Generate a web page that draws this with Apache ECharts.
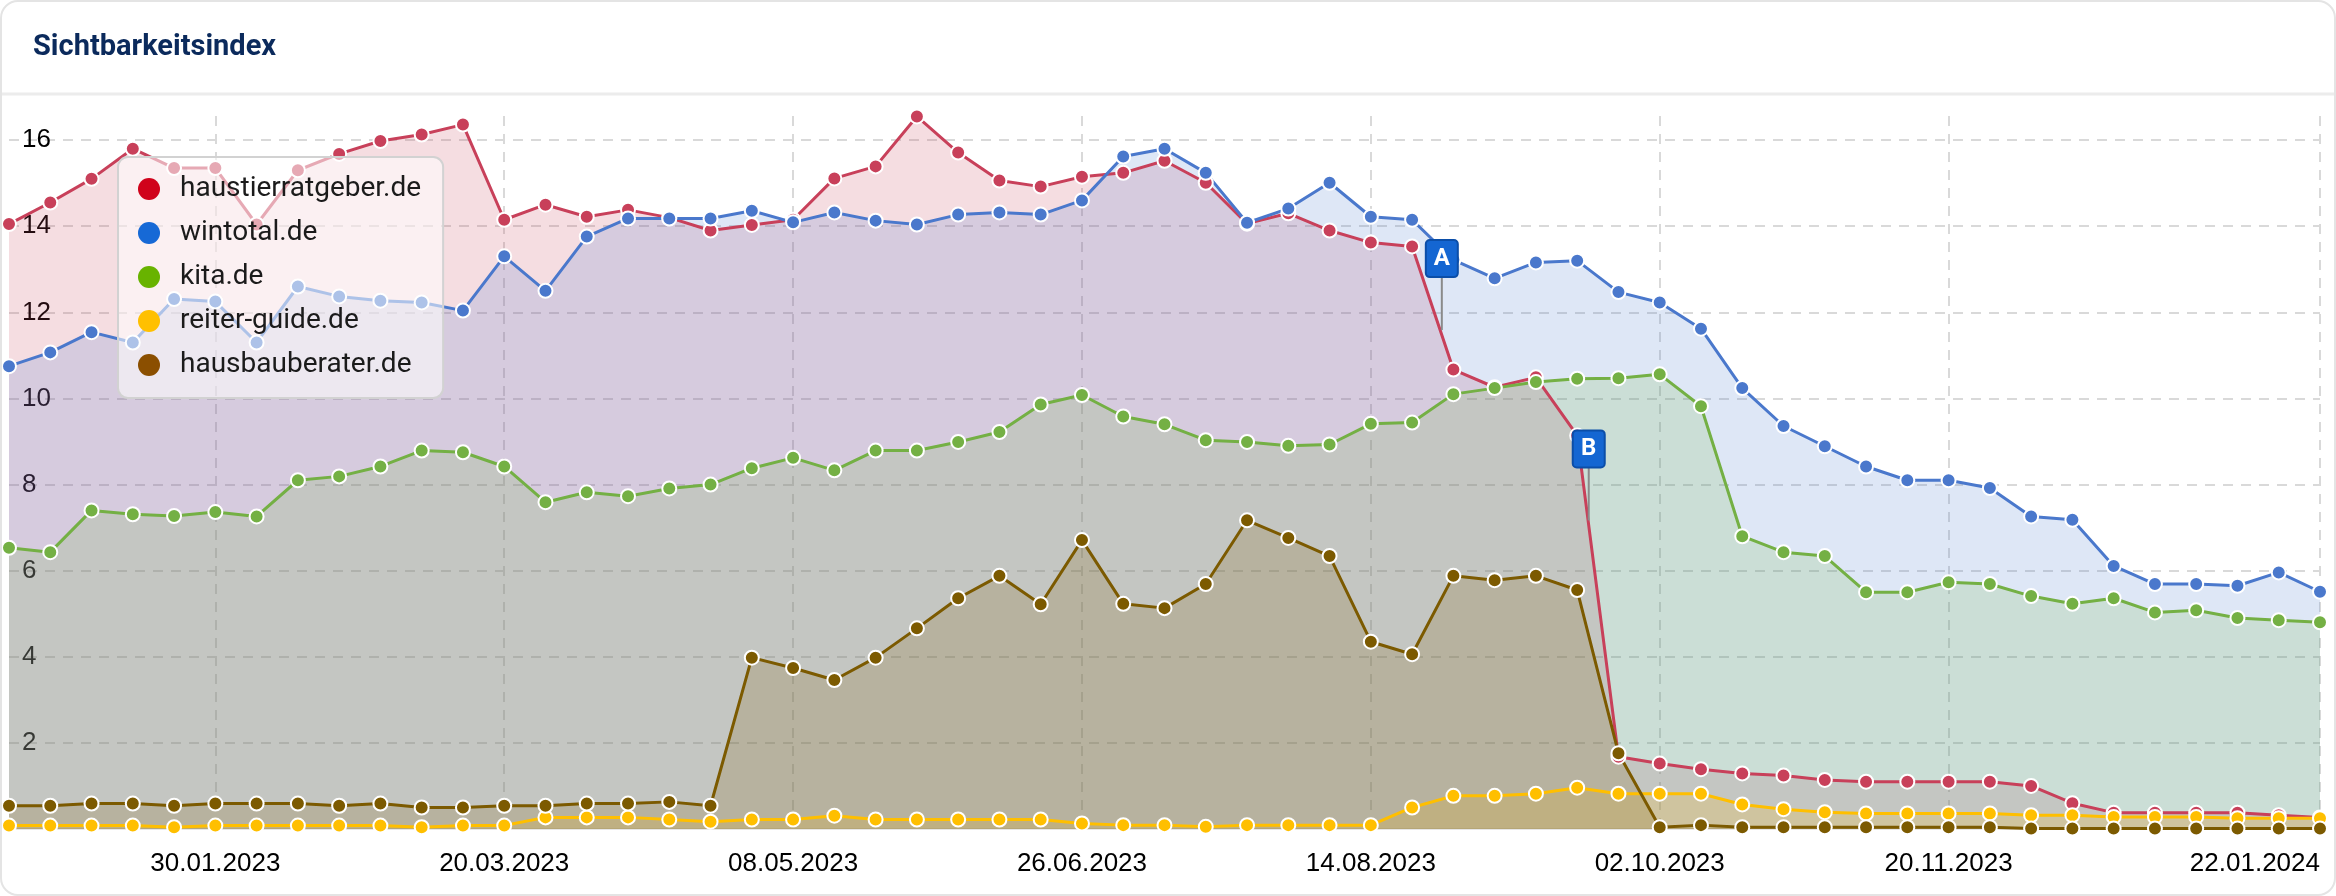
<!DOCTYPE html>
<html><head><meta charset="utf-8">
<script src="https://cdn.jsdelivr.net/npm/echarts@6/dist/echarts.min.js"></script>
<style>
html,body{margin:0;padding:0;background:#fff;}
#card{position:absolute;left:0;top:0;width:2336px;height:896px;box-sizing:border-box;border:2px solid #e4e4e4;border-radius:18px;overflow:hidden;background:#fff;}
#chart{width:2332px;height:892px;}
</style></head><body>
<div id="card"><div id="chart"></div></div>
<script>
const categories = ['26.12.2022','02.01.2023','09.01.2023','16.01.2023','23.01.2023','30.01.2023','06.02.2023','13.02.2023','20.02.2023','27.02.2023','06.03.2023','13.03.2023','20.03.2023','27.03.2023','03.04.2023','10.04.2023','17.04.2023','24.04.2023','01.05.2023','08.05.2023','15.05.2023','22.05.2023','29.05.2023','05.06.2023','12.06.2023','19.06.2023','26.06.2023','03.07.2023','10.07.2023','17.07.2023','24.07.2023','31.07.2023','07.08.2023','14.08.2023','21.08.2023','28.08.2023','04.09.2023','11.09.2023','18.09.2023','25.09.2023','02.10.2023','09.10.2023','16.10.2023','23.10.2023','30.10.2023','06.11.2023','13.11.2023','20.11.2023','27.11.2023','04.12.2023','11.12.2023','18.12.2023','25.12.2023','01.01.2024','08.01.2024','15.01.2024','22.01.2024'];
const tickLabels = ['30.01.2023','20.03.2023','08.05.2023','26.06.2023','14.08.2023','02.10.2023','20.11.2023','22.01.2024'];
const yTicks = [2,4,6,8,10,12,14,16];

const haustierratgeber = [14.05,14.55,15.1,15.8,15.35,15.35,14.04,15.3,15.68,15.98,16.13,16.36,14.15,14.5,14.22,14.38,14.2,13.9,14.03,14.15,15.11,15.39,16.55,15.71,15.06,14.92,15.15,15.24,15.52,15.01,14.06,14.3,13.9,13.62,13.53,10.67,10.26,10.49,9.14,1.68,1.52,1.39,1.29,1.24,1.14,1.1,1.1,1.1,1.1,1.0,0.6,0.38,0.38,0.38,0.38,0.32,0.27];
const wintotal = [10.75,11.07,11.54,11.3,12.31,12.25,11.3,12.6,12.37,12.27,12.23,12.04,13.3,12.5,13.76,14.18,14.18,14.18,14.36,14.09,14.32,14.13,14.04,14.27,14.32,14.27,14.6,15.62,15.8,15.24,14.08,14.41,15.01,14.22,14.15,13.22,12.79,13.16,13.2,12.47,12.23,11.62,10.24,9.36,8.89,8.42,8.1,8.1,7.92,7.26,7.18,6.11,5.69,5.69,5.65,5.96,5.51];
const kita = [6.53,6.43,7.4,7.31,7.27,7.36,7.26,8.1,8.19,8.42,8.79,8.75,8.42,7.59,7.82,7.73,7.91,8.0,8.38,8.62,8.33,8.79,8.79,8.99,9.22,9.86,10.08,9.58,9.4,9.03,8.99,8.9,8.93,9.41,9.44,10.1,10.24,10.38,10.46,10.47,10.56,9.82,6.8,6.43,6.34,5.5,5.5,5.73,5.69,5.41,5.23,5.36,5.03,5.08,4.9,4.85,4.8];
const reiterGuide = [0.08,0.08,0.08,0.08,0.04,0.08,0.08,0.08,0.08,0.08,0.04,0.08,0.08,0.27,0.27,0.27,0.22,0.17,0.22,0.22,0.31,0.22,0.22,0.22,0.22,0.22,0.13,0.09,0.09,0.05,0.09,0.09,0.09,0.09,0.5,0.77,0.77,0.82,0.96,0.82,0.82,0.82,0.57,0.46,0.39,0.36,0.36,0.36,0.36,0.32,0.32,0.28,0.28,0.28,0.25,0.25,0.25];
const hausbauberater = [0.54,0.54,0.59,0.59,0.54,0.59,0.59,0.59,0.54,0.59,0.5,0.5,0.54,0.54,0.59,0.59,0.63,0.54,3.98,3.74,3.46,3.98,4.66,5.36,5.88,5.22,6.71,5.23,5.13,5.69,7.17,6.76,6.34,4.35,4.06,5.88,5.78,5.88,5.55,1.76,0.04,0.09,0.04,0.04,0.04,0.04,0.04,0.04,0.04,0.01,0.01,0.01,0.01,0.01,0.01,0.01,0.01];

// event flags: letter, position on the week axis (fractional week index)
const flags = [['A', 34.72], ['B', 38.28]];

const seriesDefs = [
  {name:'haustierratgeber.de', data:haustierratgeber, color:'#c8405a', icon:'#d0021b'},
  {name:'wintotal.de', data:wintotal, color:'#4a78cc', icon:'#1669d6'},
  {name:'kita.de', data:kita, color:'#74b044', icon:'#68b300'},
  {name:'reiter-guide.de', data:reiterGuide, color:'#ffbf00', icon:'#ffc000'},
  {name:'hausbauberater.de', data:hausbauberater, color:'#7c5a00', icon:'#8b4f00'}
];

const chart = echarts.init(document.getElementById('chart'), null, {renderer:'canvas'});
const showTick = (idx, val) => tickLabels.indexOf(val) >= 0;

const series = seriesDefs.map(s => ({
  name: s.name, type:'line', data: s.data,
  symbol:'circle', symbolSize:14, showSymbol:true, showAllSymbol:true,
  lineStyle:{width:3, color:s.color},
  itemStyle:{color:s.color, borderColor:'#fff', borderWidth:2},
  areaStyle:{color:s.color, opacity:0.18},
  emphasis:{disabled:true}, silent:true
}));

series.push({
  type:'custom', name:'flags', silent:true, z:10, clip:false,
  data: flags.map(f => [f[1], 0]),
  encode:{x:0, y:1},
  renderItem: function (params, api) {
    const f = flags[params.dataIndex];
    const pos = f[1];
    const i0 = Math.floor(pos), t = pos - i0;
    const p0 = api.coord([i0, haustierratgeber[i0]]);
    const p1 = api.coord([i0 + 1, haustierratgeber[i0 + 1]]);
    const x = p0[0] + t * (p1[0] - p0[0]);
    const y = p0[1] + t * (p1[1] - p0[1]);
    return {type:'group', children:[
      {type:'line', shape:{x1:x, y1:y-5, x2:x, y2:y-58}, style:{stroke:'#8a8a8a', lineWidth:2}},
      {type:'rect', shape:{x:x-16, y:y-95, width:32, height:37, r:4}, style:{fill:'#1466d2', stroke:'#0b4ea8', lineWidth:2}},
      {type:'text', style:{text:f[0], x:x, y:y-76, align:'center', verticalAlign:'middle', fill:'#fff', font:'bold 24px Roboto'}}
    ]};
  }
});

chart.setOption({
  animation:false,
  title:{text:'Sichtbarkeitsindex', left:31, top:29, padding:0,
    textStyle:{fontFamily:'Roboto', fontWeight:'bold', fontSize:29, lineHeight:34, color:'#0b2a5c'}},
  graphic:[{type:'line', shape:{x1:0, y1:92, x2:2332, y2:92}, style:{stroke:'#ececec', lineWidth:3}, silent:true}],
  legend:{
    orient:'vertical', left:116, top:155,
    padding:[17,22,18,20],
    backgroundColor:'rgba(255,255,255,0.55)', borderColor:'#d2d2d2', borderWidth:2, borderRadius:10,
    icon:'circle', itemWidth:22, itemHeight:22, itemGap:14,
    textStyle:{fontFamily:'Roboto', fontSize:28, lineHeight:30, color:'#1b1b1b', padding:[0,0,0,15]},
    selectedMode:false,
    data: seriesDefs.map(s => ({name:s.name, itemStyle:{color:s.icon, borderWidth:0}}))
  },
  grid:{left:7, right:14, top:114, bottom:65, containLabel:false},
  xAxis:{
    type:'category', data:categories, boundaryGap:false,
    axisLine:{show:true, lineStyle:{color:'#e6e6e6', width:2}},
    axisTick:{show:false},
    axisLabel:{interval:showTick, fontFamily:'Liberation Sans', fontSize:26, color:'#000', margin:22, alignMaxLabel:'right'},
    splitLine:{show:true, interval:showTick, lineStyle:{color:'#d9d9d9', type:[10,8], width:2}}
  },
  yAxis:{
    type:'value', min:0, max:16.56, interval:2,
    axisLine:{show:false}, axisTick:{show:false},
    axisLabel:{inside:true, margin:13, fontFamily:'Liberation Sans', fontSize:26, color:'#000',
      formatter: v => (yTicks.indexOf(v) >= 0 ? String(v) : '')},
    splitLine:{show:true, showMinLine:false, showMaxLine:false, lineStyle:{color:'#d9d9d9', type:[10,8], width:2}}
  },
  series: series
});
</script>
</body></html>
